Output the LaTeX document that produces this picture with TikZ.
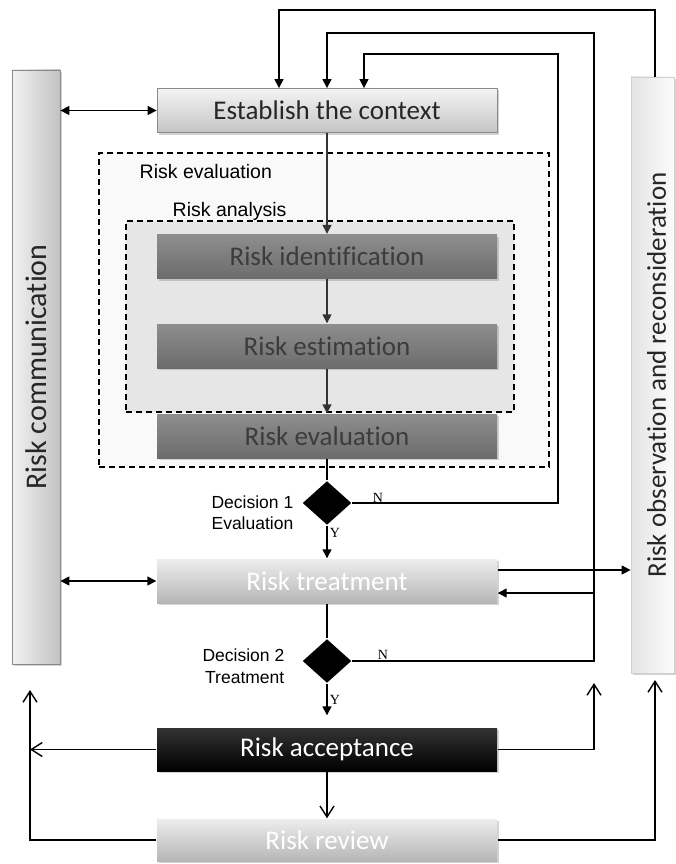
\documentclass[tikz,border=0pt]{standalone}
\usepackage{fontspec}
\setmainfont{Carlito}[Ligatures=NoCommon]
\newfontfamily\arialf{Liberation Sans}
\newfontfamily\timesf{Liberation Serif}
\usetikzlibrary{arrows.meta,shapes.geometric,shadows,calc}
\definecolor{cTop}{HTML}{F4F4F4}
\definecolor{cBot}{HTML}{C4C4C4}
\definecolor{cBord}{HTML}{8A8A8A}
\definecolor{dTop}{HTML}{8E8E8E}
\definecolor{dBot}{HTML}{6C6C6C}
\definecolor{dText}{HTML}{3C3C3C}
\definecolor{dLine}{HTML}{333333}
\definecolor{pTop}{HTML}{EDEDED}
\definecolor{pBot}{HTML}{B6B6B6}
\definecolor{evalFill}{HTML}{F9F9F9}
\definecolor{anaFill}{HTML}{E6E6E6}
\definecolor{commL}{HTML}{F2F2F2}
\definecolor{commR}{HTML}{C2C2C2}
\definecolor{obsL}{HTML}{E4E4E4}
\definecolor{obsR}{HTML}{FBFBFB}
\definecolor{obsBord}{HTML}{D0D0D0}
\begin{document}
\begin{tikzpicture}[x=1pt,y=-1pt,line width=1.4pt,
  shad/.style={drop shadow={opacity=0.35,shadow xshift=1.5pt,shadow yshift=-2pt}},
  box/.style={rectangle,minimum width=340pt,minimum height=44pt,inner sep=0pt,font=\fontsize{27}{30}\selectfont,shad},
  ctxbox/.style={box,top color=cTop,bottom color=cBot,draw=cBord,line width=0.8pt,text=black!85},
  darkbox/.style={box,top color=dTop,bottom color=dBot,text=dText},
  palebox/.style={box,top color=pTop,bottom color=pBot,text=white},
  blackbox/.style={box,top color=black!80,bottom color=black,text=white},
  arr/.style={-{Triangle[length=9pt,width=9pt]},line width=1.4pt},
  darr/.style={arr,draw=dLine,fill=dLine},
  barr/.style={{Triangle[length=9pt,width=9pt]}-{Triangle[length=9pt,width=9pt]},line width=1.4pt},
  oarr/.style={-{Straight Barb[length=11pt,width=14pt]},line width=1.4pt},
  dec/.style={diamond,fill=black,minimum width=49pt,minimum height=44pt,inner sep=0pt},
  lab/.style={font=\arialf\fontsize{17.5}{21.5}\selectfont,align=right,inner sep=0pt},
  reglab/.style={font=\arialf\fontsize{19.5}{19.5}\selectfont,anchor=west,inner sep=0pt},
  yn/.style={font=\timesf\fontsize{14}{14}\selectfont,inner sep=0pt},
  dashbox/.style={draw,dash pattern=on 6pt off 4pt,line width=1.3pt,inner sep=0pt},
  sidetxt/.style={rotate=90,font=\fontsize{27}{30}\selectfont,text=black!85,inner sep=0pt}]
\useasboundingbox (0,0) rectangle (675,864);
% regions
\node[dashbox,fill=evalFill,minimum width=450pt,minimum height=314pt] (evalreg) at (324,310) {};
\node[dashbox,fill=anaFill,minimum width=388pt,minimum height=191pt] (anareg) at (320,316.5) {};
\node[reglab] (evallab) at (139,172) {Risk evaluation};
\node[reglab] (analab) at (172,211) {Risk analysis};
% side bars
\node[draw=cBord,line width=0.8pt,left color=commL,right color=commR,minimum width=48pt,minimum height=594pt,inner sep=0pt,shad] (comm) at (36,367) {};
\node[sidetxt,font=\fontsize{30}{32}\selectfont] (commtxt) at (comm.center) {Risk communication};
\node[draw=obsBord,line width=0.8pt,left color=obsL,right color=obsR,minimum width=43pt,minimum height=596pt,inner sep=0pt,shad] (obs) at (652.5,375) {};
\node[sidetxt] (obstxt) at ([xshift=4pt]obs.center) {Risk observation and reconsideration};
% boxes
\node[ctxbox] (est) at (327,110.5) {Establish the context};
\node[darkbox] (ident) at (327,256.5) {Risk identification};
\node[darkbox] (estim) at (327,346) {Risk estimation};
\node[darkbox] (evalb) at (327,436) {Risk evaluation};
\node[palebox] (treat) at (327,581) {Risk treatment};
\node[blackbox,minimum height=43pt] (acc) at (327,749.5) {Risk acceptance};
\node[palebox,minimum height=42pt] (rev) at (327,840) {Risk review};
% decisions
\node[dec] (d1) at (327,503) {};
\node[dec] (d2) at (327,661) {};
\node[lab,anchor=east] (d1lab) at (294,512.5) {Decision 1\\Evaluation};
\node[lab,anchor=east] (d2lab) at (285,666) {Decision 2\\Treatment};
\node[yn] (n1) at (378,498) {N};
\node[yn] (y1) at (335,533) {Y};
\node[yn] (n2) at (383,655) {N};
\node[yn] (y2) at (335,700) {Y};
% coordinates
\coordinate (r1) at (558,54);
\coordinate (r2) at (594,33);
\coordinate (r3) at (655,10);
\coordinate (lx) at (30,690);
\coordinate (mx) at (594,683);
\coordinate (rx) at (655,680);
\coordinate (tout) at ([yshift=11pt]treat.east);
\coordinate (tin) at ([yshift=-12pt]treat.east);
% connectors
\draw[barr] (comm.east |- est.west) -- (est.west);
\draw[barr] (comm.east |- treat.west) -- (treat.west);
\draw[arr] (obs.north -| r3) -- (r3) -| ([xshift=-48pt]est.north);
\draw[arr] (d2.east) -| (r2) -| (est.north);
\draw[arr] (d1.east) -| (r1) -| ([xshift=37pt]est.north);
\draw[darr] (est.south) -- (ident.north);
\draw[darr] (ident.south) -- (estim.north);
\draw[darr] (estim.south) -- (evalb.north);
\draw (evalb.south) -- (d1.north);
\draw[arr] (d1.south) -- (treat.north);
\draw (treat.south) -- (d2.north);
\draw[arr,shorten >=12pt] (d2.south) -- (acc.north);
\draw[arr] (tout) -- (obs.west |- tout);
\draw[arr] (tin -| r2) -- (tin);
\draw[oarr] (acc.west) -- (acc.west -| lx);
\draw[oarr] (rev.west) -| (lx);
\draw[oarr] (acc.east) -| (mx);
\draw[oarr] (rev.east) -| (rx);
\draw[oarr] (acc.south) -- (rev.north);
\end{tikzpicture}
\end{document}
